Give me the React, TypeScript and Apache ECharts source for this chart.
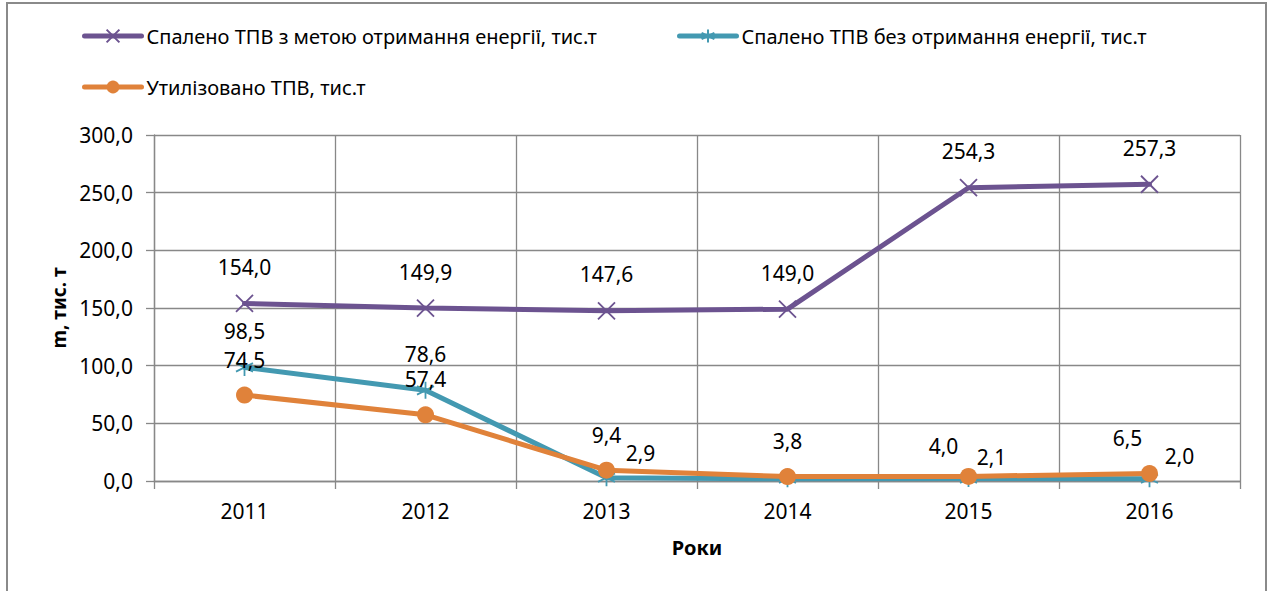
import React, { useEffect, useRef } from "react";
import * as echarts from "echarts";

const years = ["2011", "2012", "2013", "2014", "2015", "2016"];
const seriesNames = [
  "Спалено ТПВ з метою отримання енергії, тис.т",
  "Спалено ТПВ без отримання енергії, тис.т",
  "Утилізовано ТПВ, тис.т",
];
const burnedWithEnergy = [154.0, 149.9, 147.6, 149.0, 254.3, 257.3];
const burnedWithoutEnergy = [98.5, 78.6, 2.9, 1.9, 2.1, 2.0];
const utilized = [74.5, 57.4, 9.4, 3.8, 4.0, 6.5];
const yTicks = { min: 0, max: 300, interval: 50 };

// label placement tweaks (styling only, per point index)
const tealLabelOffsets: Record<number, number[]> = { 2: [34, 12], 4: [23, 15], 5: [30, 14] };
const tealHiddenLabels = [3];
const orangeLabelOffsets: Record<number, number[]> = { 4: [-25, 5], 5: [-22, 0] };

const PURPLE = "#6c5390";
const TEAL = "#4399b1";
const ORANGE = "#e0823a";
const FONT = "'Noto Sans', sans-serif";
const fmt = (v: number) => v.toFixed(1).replace(".", ",");

const X_SYMBOL = "path://M0,0L10,10M10,0L0,10";
const STAR_SYMBOL = "path://M5,0L5,10M0.7,2.5L9.3,7.5M0.7,7.5L9.3,2.5";

function buildData(values: number[], offsets: Record<number, number[]>, hidden: number[]) {
  return values.map((v, i) => {
    const item: any = { value: v };
    if (offsets[i]) item.label = { offset: offsets[i] };
    if (hidden.includes(i)) item.label = { show: false };
    return item;
  });
}

export default function App() {
  const ref = useRef<HTMLDivElement>(null);
  useEffect(() => {
    if (!ref.current) return;
    const chart = echarts.init(ref.current, null, { renderer: "svg" });
    const labelBase = {
      show: true,
      position: "top",
      distance: 16,
      color: "#000",
      fontSize: 21,
      lineHeight: 22,
      fontFamily: FONT,
      formatter: (p: any) => fmt(p.value),
    };
    const legendBase = {
      orient: "horizontal",
      itemWidth: 57,
      itemHeight: 16,
      padding: 0,
      textStyle: { fontSize: 20, fontFamily: FONT, color: "#000" },
      lineStyle: { width: 5, cap: "round" },
      selectedMode: false,
    };
    chart.setOption({
      animation: false,
      backgroundColor: "#fff",
      graphic: [
        {
          type: "rect",
          shape: { x: 7, y: 3, width: 1259, height: 640 },
          style: { fill: "none", stroke: "#8a8a8a", lineWidth: 2 },
          silent: true,
        },
      ],
      legend: [
        { ...legendBase, data: [seriesNames[0]], left: 82, top: 26 },
        { ...legendBase, data: [seriesNames[1]], left: 677, top: 26 },
        { ...legendBase, data: [seriesNames[2]], left: 82, top: 77 },
      ],
      grid: { left: 154, right: 31, top: 135, bottom: 110, containLabel: false },
      xAxis: {
        type: "category",
        data: years,
        boundaryGap: true,
        name: "Роки",
        nameLocation: "middle",
        nameGap: 56,
        nameTextStyle: { fontSize: 20, fontWeight: "bold", fontFamily: FONT, color: "#000" },
        axisLine: { lineStyle: { color: "#888", width: 1.3 } },
        axisTick: { show: true, length: 8, lineStyle: { color: "#888", width: 1.3 } },
        axisLabel: { fontSize: 21, fontFamily: FONT, color: "#000", margin: 19 },
        splitLine: { show: true, lineStyle: { color: "#888", width: 1.3 } },
      },
      yAxis: {
        type: "value",
        min: yTicks.min,
        max: yTicks.max,
        interval: yTicks.interval,
        name: "m, тис. т",
        nameLocation: "middle",
        nameGap: 86,
        nameTextStyle: { fontSize: 19, fontWeight: "bold", fontFamily: FONT, color: "#000" },
        axisLine: { show: true, lineStyle: { color: "#888", width: 1.3 } },
        axisTick: { show: true, length: 8, lineStyle: { color: "#888", width: 1.3 } },
        axisLabel: { fontSize: 21, fontFamily: FONT, color: "#000", margin: 21, formatter: (v: number) => fmt(v) },
        splitLine: { show: true, lineStyle: { color: "#888", width: 1.3 } },
      },
      series: [
        {
          name: seriesNames[0],
          type: "line",
          data: burnedWithEnergy,
          symbol: X_SYMBOL,
          symbolSize: 17,
          lineStyle: { color: PURPLE, width: 5, cap: "round" },
          itemStyle: { color: PURPLE, borderColor: PURPLE, borderWidth: 1.8 },
          label: labelBase,
          z: 2,
        },
        {
          name: seriesNames[1],
          type: "line",
          data: buildData(burnedWithoutEnergy, tealLabelOffsets, tealHiddenLabels),
          symbol: STAR_SYMBOL,
          symbolSize: 17,
          lineStyle: { color: TEAL, width: 5, cap: "round" },
          itemStyle: { color: TEAL, borderColor: TEAL, borderWidth: 1.8 },
          label: labelBase,
          z: 3,
        },
        {
          name: seriesNames[2],
          type: "line",
          data: buildData(utilized, orangeLabelOffsets, []),
          symbol: "circle",
          symbolSize: 17,
          lineStyle: { color: ORANGE, width: 5, cap: "round" },
          itemStyle: { color: ORANGE, borderColor: ORANGE, borderWidth: 0 },
          label: labelBase,
          z: 4,
        },
      ],
    });
    return () => chart.dispose();
  }, []);
  return (
    <div
      ref={ref}
      style={{ position: "fixed", left: 0, top: 0, width: 1271, height: 591 }}
    />
  );
}
